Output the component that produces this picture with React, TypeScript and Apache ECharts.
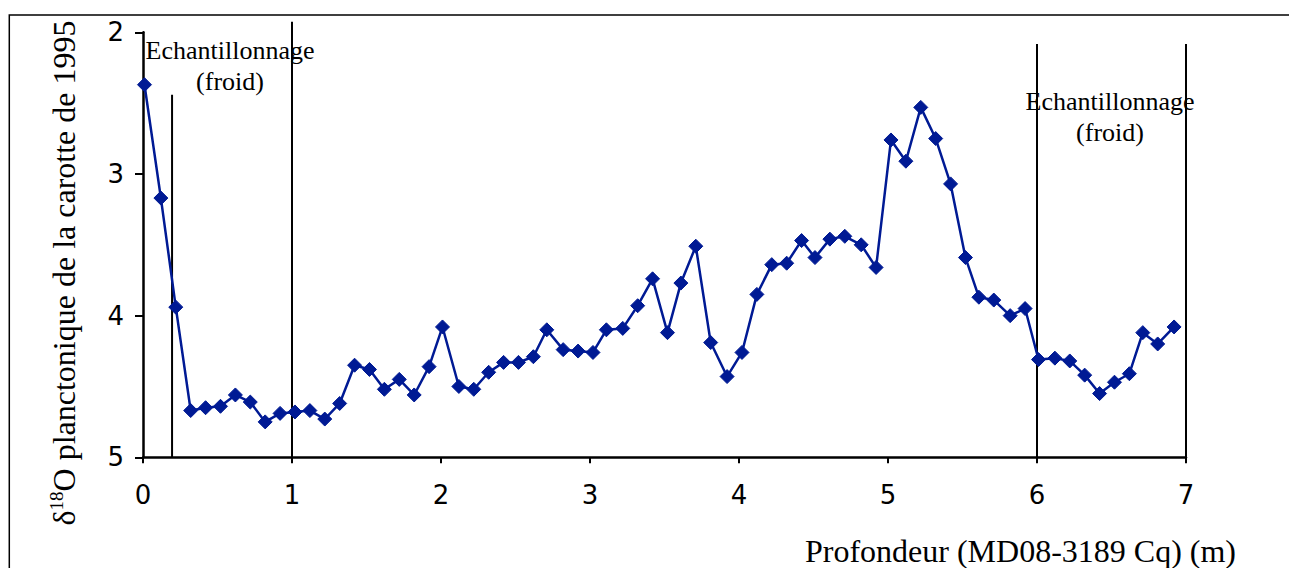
import React, { useEffect, useRef } from "react";
import * as echarts from "echarts";

const depths = [
  0.01, 0.12, 0.22, 0.32, 0.42, 0.52, 0.62, 0.72, 0.82, 0.92,
  1.02, 1.12, 1.22, 1.32, 1.42, 1.52, 1.62, 1.72, 1.82, 1.92,
  2.01, 2.12, 2.22, 2.32, 2.42, 2.52, 2.62, 2.71, 2.82, 2.92,
  3.02, 3.11, 3.22, 3.32, 3.42, 3.52, 3.61, 3.71, 3.81, 3.92,
  4.02, 4.12, 4.22, 4.32, 4.42, 4.51, 4.61, 4.71, 4.82, 4.92,
  5.02, 5.12, 5.22, 5.32, 5.42, 5.52, 5.61, 5.71, 5.82, 5.92,
  6.01, 6.12, 6.22, 6.32, 6.42, 6.52, 6.62, 6.71, 6.81, 6.92,
];
const d18O = [
  2.37, 3.17, 3.94, 4.67, 4.65, 4.64, 4.56, 4.61, 4.75, 4.69,
  4.68, 4.67, 4.73, 4.62, 4.35, 4.38, 4.52, 4.45, 4.56, 4.36,
  4.08, 4.5, 4.52, 4.4, 4.33, 4.33, 4.29, 4.1, 4.24, 4.25,
  4.26, 4.1, 4.09, 3.93, 3.74, 4.12, 3.77, 3.51, 4.19, 4.43,
  4.26, 3.85, 3.64, 3.63, 3.47, 3.59, 3.46, 3.44, 3.5, 3.66,
  2.76, 2.91, 2.53, 2.75, 3.07, 3.59, 3.87, 3.89, 4.0, 3.95,
  4.31, 4.3, 4.32, 4.42, 4.55, 4.47, 4.41, 4.12, 4.2, 4.08,
];
// vertical separator lines: [depth, top value, bottom value]
const separators = [
  [0.195, 2.44, 5],
  [1.0, 1.925, 5],
  [6.0, 2.083, 5],
  [7.0, 2.083, 5],
];
const xTicks = [0, 1, 2, 3, 4, 5, 6, 7];
const yTicks = [2, 3, 4, 5];
const annotationText = "Echantillonnage\n(froid)";
const xTitle = "Profondeur (MD08-3189 Cq) (m)";

export default function App() {
  const ref = useRef<HTMLDivElement>(null);
  useEffect(() => {
    if (!ref.current) return;
    const chart = echarts.init(ref.current, null, { renderer: "svg" });
    const serif = "'Liberation Serif', 'Times New Roman', serif";
    const sans = "'DejaVu Sans', Verdana, sans-serif";
    chart.setOption({
      animation: false,
      backgroundColor: "#ffffff",
      grid: { left: 143, top: 32.3, right: 103, bottom: 110.7, containLabel: false },
      xAxis: {
        type: "value",
        min: xTicks[0],
        max: xTicks[xTicks.length - 1],
        interval: 1,
        splitLine: { show: false },
        axisLine: { show: true, onZero: false, lineStyle: { color: "#000", width: 2.5 } },
        axisTick: { show: true, inside: false, length: 6, lineStyle: { color: "#000", width: 2 } },
        axisLabel: { margin: 25, fontSize: 26, color: "#000", fontFamily: sans },
      },
      yAxis: {
        type: "value",
        inverse: true,
        min: yTicks[0],
        max: yTicks[yTicks.length - 1],
        interval: 1,
        splitLine: { show: false },
        axisLine: { show: true, onZero: false, lineStyle: { color: "#000", width: 2.5 } },
        axisTick: { show: true, inside: false, length: 8, lineStyle: { color: "#000", width: 2 } },
        axisLabel: { margin: 19, fontSize: 26, color: "#000", fontFamily: sans },
      },
      series: [
        {
          type: "custom",
          clip: false,
          silent: true,
          z: 1,
          data: separators,
          renderItem: (params: any, api: any) => {
            const top = api.coord([api.value(0), api.value(1)]);
            const bot = api.coord([api.value(0), api.value(2)]);
            return {
              type: "line",
              shape: { x1: top[0], y1: top[1], x2: bot[0], y2: bot[1] },
              style: { stroke: "#000", lineWidth: 2 },
            };
          },
        },
        {
          type: "line",
          z: 3,
          data: depths.map((d, i) => [d, d18O[i]]),
          symbol: "diamond",
          symbolSize: 14,
          showAllSymbol: true,
          lineStyle: { color: "#001a94", width: 2.5 },
          itemStyle: { color: "#001a94", borderColor: "#001a94", borderWidth: 1 },
        },
      ],
      graphic: [
        {
          type: "rect",
          z: -1,
          shape: { x: 9.3, y: 15, width: 1400, height: 700 },
          style: { fill: "none", stroke: "#000", lineWidth: 1.5 },
        },
        {
          type: "text",
          x: 230,
          y: 65.5,
          style: {
            text: annotationText,
            font: `26px ${serif}`,
            fill: "#000",
            align: "center",
            verticalAlign: "middle",
            lineHeight: 31,
          },
        },
        {
          type: "text",
          x: 1110,
          y: 116.5,
          style: {
            text: annotationText,
            font: `26px ${serif}`,
            fill: "#000",
            align: "center",
            verticalAlign: "middle",
            lineHeight: 31,
          },
        },
        {
          type: "text",
          x: 1236,
          y: 551,
          style: {
            text: xTitle,
            font: `32px ${serif}`,
            fill: "#000",
            align: "right",
            verticalAlign: "middle",
          },
        },
        {
          type: "text",
          x: 64,
          y: 273,
          rotation: Math.PI / 2,
          style: {
            text: "{n|δ}{s|18}{n|O planctonique de la carotte de 1995}",
            align: "center",
            verticalAlign: "middle",
            fill: "#000",
            rich: {
              n: { fontSize: 32, fontFamily: serif, lineHeight: 34, fill: "#000" },
              s: { fontSize: 19, fontFamily: serif, lineHeight: 34, verticalAlign: "top", fill: "#000" },
            },
          },
        },
      ],
    });
    return () => chart.dispose();
  }, []);
  return (
    <div
      ref={ref}
      style={{ position: "fixed", left: 0, top: 0, width: 1289, height: 568 }}
    />
  );
}
